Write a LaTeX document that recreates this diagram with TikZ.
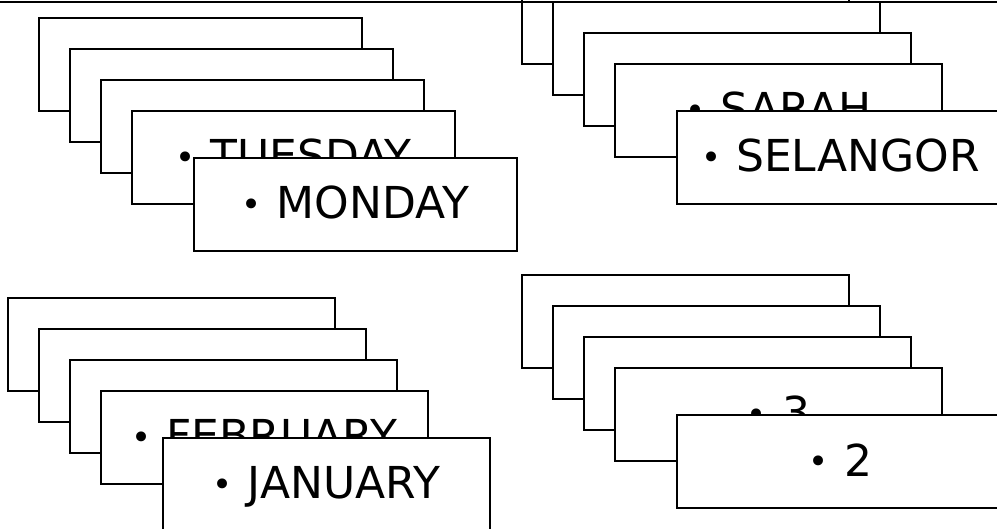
\documentclass[tikz,border=0pt]{standalone}
\usepackage{fontspec}
\setmainfont{DejaVu Sans}
\newcommand\smallbul{\raisebox{2pt}{\fontsize{34}{34}\selectfont •}\hspace{15pt}}
\newcommand\cardstack[6]{%
  \foreach \i in {1,2,3}{\node[card=#4pt] (#1c\i) at ({#2+31*(\i-1)},{#3+31*(\i-1)}) {};}
  \node[card=#4pt] (#1c4) at ({#2+93},{#3+93}) {};
  \node[cardtext] (#1t4) at ([yshift=-61pt]#1c4.north) {\smallbul#5};
  \node[card=#4pt] (#1c5) at ({#2+155},{#3+140}) {};
  \node[cardtext] (#1t5) at ([yshift=-61pt]#1c5.north) {\smallbul#6};
}
\begin{document}
\begin{tikzpicture}[x=1pt,y=-1pt,
  card/.style={draw=black, line width=1.4pt, fill=white, minimum width=#1,
    minimum height=93pt, inner sep=0pt, outer sep=0pt, anchor=north west},
  cardtext/.style={anchor=base, inner sep=0pt, font=\fontsize{44}{50}\selectfont}]
\useasboundingbox (0,0) rectangle (997,529);
\clip (0,0) rectangle (997,529);
\cardstack{tl}{39}{18}{323}{TUESDAY}{MONDAY}
\cardstack{tr}{522}{-29}{327}{SARAH}{SELANGOR}
\cardstack{bl}{8}{298}{327}{FEBRUARY}{JANUARY}
\cardstack{br}{522}{275}{327}{3}{2}
\coordinate (top0) at (0,2.2);
\coordinate (top1) at (997,2.2);
\draw[line width=1.6pt] (top0) -- (top1);
\end{tikzpicture}
\end{document}
